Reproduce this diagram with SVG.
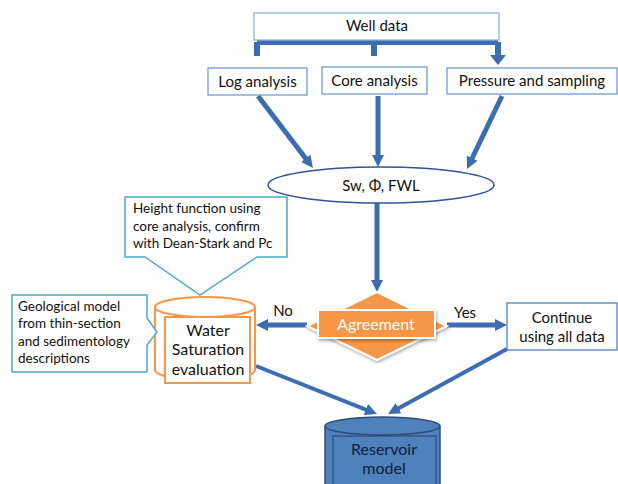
<svg xmlns="http://www.w3.org/2000/svg" width="618" height="484" viewBox="0 0 618 484">
<style>
text{font-family:Lato,"Open Sans","Liberation Sans",sans-serif;fill:#111;}
.t{font-size:15px;text-anchor:middle;}
.c{font-size:13.5px;}
.box{fill:#fff;stroke:#6F9BD6;stroke-width:1.3;}
.call{fill:#fff;stroke:#4BACC6;stroke-width:1.5;}
.arr{fill:none;stroke:#3C6DB0;stroke-width:5;marker-end:url(#ah);}
.thin{fill:none;stroke:#3C6DB0;stroke-width:4;marker-end:url(#ah);}
.bar{fill:none;stroke:#3C6DB0;stroke-width:6;marker-end:url(#bh);}
.orange{fill:#fff;stroke:#F79646;stroke-width:2;}
.ws{font-size:16px;text-anchor:middle;}
</style>
<defs>
<marker id="ah" viewBox="0 0 12 12" refX="2" refY="6" markerWidth="12" markerHeight="12" markerUnits="userSpaceOnUse" orient="auto">
<path d="M0,0 L12,6 L0,12 Z" fill="#3C6DB0"/>
</marker>
<marker id="bh" viewBox="0 0 10 16" refX="1" refY="8" markerWidth="10" markerHeight="16" markerUnits="userSpaceOnUse" orient="auto">
<path d="M0,0 L10,8 L0,16 Z" fill="#3C6DB0"/>
</marker>
<filter id="sh" x="-20%" y="-20%" width="140%" height="140%">
<feDropShadow dx="1" dy="2" stdDeviation="1.5" flood-color="#000" flood-opacity="0.3"/>
</filter>
</defs>

<g id="connectors">
<path class="bar" d="M257,42 H498 M257,42 V56 M374,42 V56 M498,42 V56"/>
<line class="arr" x1="258" y1="96" x2="306.9" y2="160"/>
<line class="arr" x1="378" y1="96" x2="378" y2="157"/>
<line class="arr" x1="502" y1="96" x2="471.3" y2="160"/>
<line class="arr" x1="377" y1="203" x2="377" y2="282"/>
<line class="arr" x1="307" y1="325" x2="266" y2="325"/>
<line class="arr" x1="447" y1="325" x2="497" y2="325"/>
<line class="thin" x1="256" y1="366" x2="367.7" y2="410.3"/>
<line class="thin" x1="507" y1="349" x2="396.8" y2="409.2"/>
<text x="283" y="316" style="font-size:15px;text-anchor:middle">No</text>
<text x="465" y="318" style="font-size:15px;text-anchor:middle">Yes</text>
</g>

<g id="well-data">
<rect x="254" y="13" width="245" height="27" fill="#fff" stroke="#95B3D7" stroke-width="1.3"/>
<text class="t" x="377" y="31">Well data</text>
</g>
<g id="log-analysis">
<rect class="box" x="208" y="68" width="99" height="27"/>
<text class="t" x="257.5" y="87">Log analysis</text>
</g>
<g id="core-analysis">
<rect class="box" x="322" y="67" width="105" height="27"/>
<text class="t" x="374.5" y="86">Core analysis</text>
</g>
<g id="pressure">
<rect class="box" x="447" y="68" width="170" height="26"/>
<text class="t" x="532" y="86">Pressure and sampling</text>
</g>
<g id="sw-phi-fwl">
<ellipse cx="381" cy="185" rx="113" ry="18" fill="#fff" stroke="#2F5597" stroke-width="1.5"/>
<text class="t" x="381" y="191">Sw, Φ, FWL</text>
</g>
<g id="agreement">
<path d="M377,292 L447,326 L377,360 L307,326 Z" fill="#F79646" stroke="#fff" stroke-width="2" filter="url(#sh)"/>
<rect x="318" y="310" width="117" height="28" fill="#F79646" stroke="#fff" stroke-width="2" filter="url(#sh)"/>
<text class="t" x="376" y="330" style="fill:#fff;font-size:16px">Agreement</text>
</g>
<g id="continue">
<rect x="507" y="303" width="110" height="47" fill="#fff" stroke="#4F81BD" stroke-width="1.3"/>
<text class="t" x="562" y="323">Continue</text>
<text class="t" x="562" y="342">using all data</text>
</g>
<g id="water-saturation">
<path class="orange" d="M155,307 V370 A50,10 0 0 0 255,370 V307"/>
<ellipse class="orange" cx="205" cy="307" rx="50" ry="10"/>
<rect class="orange" x="165" y="317" width="85" height="66"/>
<text class="ws" x="208" y="335.5">Water</text>
<text class="ws" x="208" y="355">Saturation</text>
<text class="ws" x="208" y="374.5">evaluation</text>
</g>
<g id="height-function">
<path class="call" d="M125,197 H287 V257 H257 L200,295 L145,257 H125 Z"/>
<text class="c" x="133" y="213">Height function using</text>
<text class="c" x="133" y="231">core analysis, confirm</text>
<text class="c" x="133" y="248">with Dean-Stark and Pc</text>
</g>
<g id="geological-model">
<path class="call" d="M12,295 H147 V318 L157,332 L147,345 V372 H12 Z"/>
<text class="c" x="18" y="311">Geological model</text>
<text class="c" x="18" y="328">from thin-section</text>
<text class="c" x="18" y="346">and sedimentology</text>
<text class="c" x="18" y="363">descriptions</text>
</g>
<g id="reservoir-model">
<path d="M325,426 V490 H440 V426" fill="#4F81BD" stroke="#2C4D75" stroke-width="1.5"/>
<ellipse cx="382.5" cy="426" rx="57.5" ry="9" fill="#4F81BD" stroke="#2C4D75" stroke-width="1.5"/>
<rect x="333" y="436" width="103" height="54" fill="#4F81BD" stroke="#2C4D75" stroke-width="1.2"/>
<text class="t" x="384" y="455" style="font-size:16px;fill:#10203a">Reservoir</text>
<text class="t" x="384" y="474" style="font-size:16px;fill:#10203a">model</text>
</g>
</svg>
